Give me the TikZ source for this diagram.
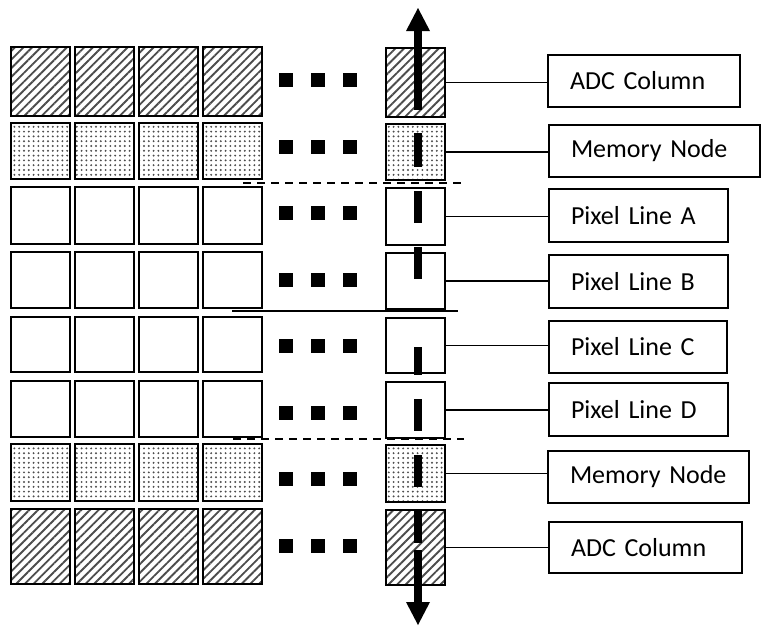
\documentclass[tikz,border=0pt]{standalone}
\usepackage{fontspec}
\setmainfont{Carlito}
\usetikzlibrary{patterns.meta}
\tikzset{
  cellbox/.style={draw=black, line width=1.4pt},
  kadc/.style={pattern={Lines[angle=45,distance=4.6pt,line width=1.4pt]}, pattern color=black!70},
  kmem/.style={pattern={Dots[distance=3.6pt,radius=0.8pt]}, pattern color=black!70},
  kpix/.style={},
  lbl/.style={draw=black, line width=1.1pt, inner xsep=16.5pt, inner ysep=0pt, align=left,
              font=\fontsize{19.5}{23}\selectfont},
  link/.style={line width=1.1pt},
  sep/.style={line width=1.1pt, dash pattern=on 6pt off 4.5pt},
  bus/.style={line width=5.6pt},
}
\begin{document}
\begin{tikzpicture}[x=0.75pt,y=-0.75pt]
\useasboundingbox (0,0) rectangle (765,626);

% grid of cells
\foreach \t/\b/\k/\n/\dy in {47/116/kadc/1/80, 123/179/kmem/2/146.5, 187/244/kpix/3/213,
   252/308/kpix/4/279.5, 317/372/kpix/5/346, 381/437/kpix/6/412.5,
   444/501/kmem/7/479, 509/584/kadc/8/545.5}{
  \foreach \x in {11,75,139,203}{
    \draw[cellbox,\k] (\x,\t) rectangle ++(59,\b-\t);
  }
  \node[cellbox,\k, minimum width=44.25pt, minimum height={(\b-\t)*0.75pt},
        inner sep=0pt, anchor=north west] (r\n) at (385,\t) {};
  \foreach \x in {286,318,350}{
    \fill (\x-7,\dy-7) rectangle ++(14,14);
  }
}

% label boxes
\node[lbl, minimum height=39pt,    text width=111pt]    (b1) at (644,81)    {ADC Column};
\node[lbl, minimum height=39pt,    text width=125.25pt] (b2) at (654.5,151) {Memory Node};
\node[lbl, minimum height=39.75pt, text width=101.25pt] (b3) at (638.5,215.5) {Pixel Line A};
\node[lbl, minimum height=39.75pt, text width=101.25pt] (b4) at (638.5,281.5) {Pixel Line B};
\node[lbl, minimum height=39pt,    text width=100.5pt]  (b5) at (638,347)   {Pixel Line C};
\node[lbl, minimum height=39.75pt, text width=101.25pt] (b6) at (638.5,409.5) {Pixel Line D};
\node[lbl, minimum height=39pt,    text width=117.75pt] (b7) at (648.5,477) {Memory Node};
\node[lbl, minimum height=38.25pt, text width=111.75pt] (b8) at (645.5,547.5) {ADC Column};

% connectors
\foreach \n in {1,...,8}{
  \draw[link] (r\n.east) -- (r\n.east -| b\n.west);
}

% separators
\draw[sep] (243,183) -- (462,183);
\draw[sep] (233,439) -- (464,439);
\draw[link] (232,311) -- (458,311);

% bidirectional bus
\fill (418,8) -- (430,31) -- (406,31) -- cycle;
\draw[bus] (418,30) -- (418,110);
\foreach \a/\z in {133/167, 191/223, 247/279, 347/375, 399/431, 455/487, 511/543, 550/603}{
  \draw[bus] (418,\a) -- (418,\z);
}
\fill (418,625) -- (430,602) -- (406,602) -- cycle;
\end{tikzpicture}
\end{document}
